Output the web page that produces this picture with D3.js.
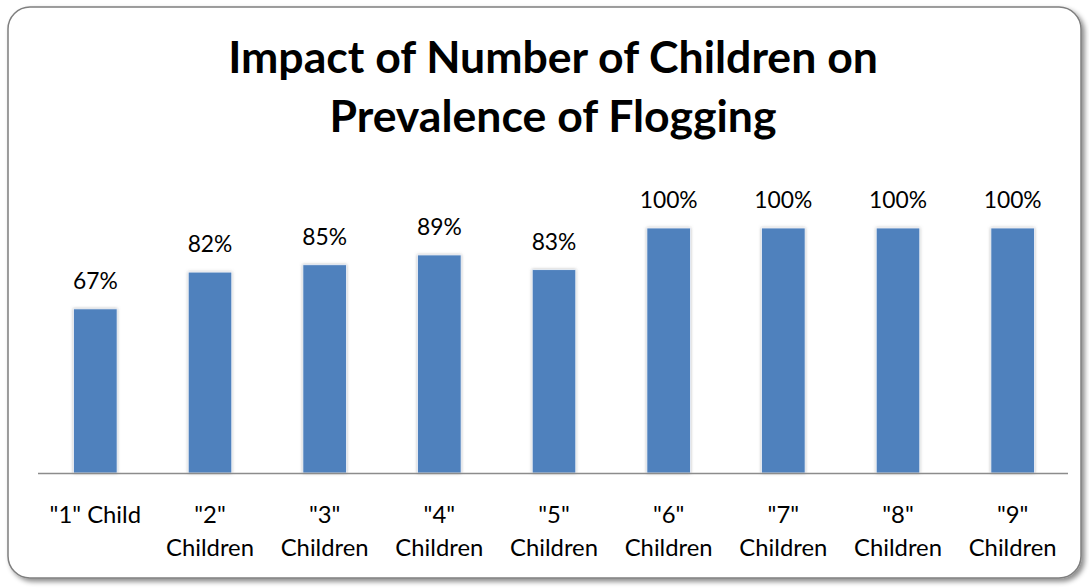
<!DOCTYPE html>
<html><head><meta charset="utf-8">
<script src="https://cdn.jsdelivr.net/npm/d3@7"></script>
<style>html,body{margin:0;padding:0;background:#fff;}</style>
</head><body>
<svg id="chart" width="1089" height="588"></svg>
<script>
const categories = ['"1" Child','"2" Children','"3" Children','"4" Children','"5" Children','"6" Children','"7" Children','"8" Children','"9" Children'];
const values = [0.67, 0.82, 0.85, 0.89, 0.83, 1.00, 1.00, 1.00, 1.00];
const titleLines = ["Impact of Number of Children on", "Prevalence of Flogging"];
const FONT = "Lato, 'Open Sans', sans-serif";

const svg = d3.select("#chart");
const defs = svg.append("defs");
const fs = defs.append("filter").attr("id","frameShadow").attr("x","-5%").attr("y","-5%").attr("width","110%").attr("height","110%");
fs.append("feDropShadow").attr("dx",3).attr("dy",3).attr("stdDeviation",2.5).attr("flood-color","#000").attr("flood-opacity",0.45);
const bs = defs.append("filter").attr("id","barShadow").attr("x","-30%").attr("y","-10%").attr("width","160%").attr("height","120%");
bs.append("feDropShadow").attr("dx",0).attr("dy",0).attr("stdDeviation",1.6).attr("flood-color","#7f7f7f").attr("flood-opacity",0.55);

svg.append("rect").attr("x",8).attr("y",7).attr("width",1073).attr("height",571)
  .attr("rx",22).attr("ry",22).attr("fill","#fff").attr("stroke","#7f7f7f").attr("stroke-width",1.5)
  .attr("filter","url(#frameShadow)");

function fitSize(text, target, weight){
  const t = svg.append("text").attr("font-family",FONT).attr("font-weight",weight).attr("font-size",100).text(text);
  const w = t.node().getComputedTextLength();
  t.remove();
  return 100*target/w;
}

const x = d3.scaleBand().domain(categories).range([38, 1070]).padding(0);
const y = d3.scaleLinear().domain([0, 1.2]).range([473, 179]);
const barW = x.bandwidth()*0.38;

// title
const tSize = fitSize(titleLines[0], 650, "bold");
const titleY = [73, 132];
svg.selectAll("text.title").data(titleLines).join("text").attr("class","title")
  .attr("x",553).attr("y",(d,i)=>titleY[i]).attr("text-anchor","middle")
  .attr("font-family",FONT).attr("font-weight","bold").attr("font-size",tSize).attr("fill","#000").text(d=>d);

// bars
svg.append("g").selectAll("rect").data(values).join("rect")
  .attr("x",(d,i)=>x(categories[i]) + (x.bandwidth()-barW)/2)
  .attr("y",d=>y(d)).attr("width",barW).attr("height",d=>y(0)-y(d))
  .attr("fill","#4F81BD").attr("stroke","#f4f6fa").attr("stroke-width",0.8)
  .attr("filter","url(#barShadow)");

// axis
const axis = svg.append("g").attr("transform",`translate(0,${y(0)})`)
  .call(d3.axisBottom(x).tickSize(0).tickFormat(""));
axis.select(".domain").attr("stroke","#8c8c8c").attr("stroke-width",1.5).attr("d","M38,0.5H1068");

// value labels
const vSize = fitSize("100%", 58, "normal");
svg.append("g").selectAll("text").data(values).join("text")
  .attr("x",(d,i)=>x(categories[i]) + x.bandwidth()/2)
  .attr("y",d=>y(d)-20).attr("text-anchor","middle")
  .attr("font-family",FONT).attr("font-size",vSize).attr("fill","#000")
  .text(d=>d3.format(".0%")(d));

// category labels with wrapping
const cSize = fitSize("Children", 88, "normal");
const cg = svg.append("g");
categories.forEach(c=>{
  const cx = x(c) + x.bandwidth()/2;
  const t = cg.append("text").attr("text-anchor","middle").attr("font-family",FONT)
    .attr("font-size",cSize).attr("fill","#000");
  const probe = t.text(c).node().getComputedTextLength();
  let lines = [c];
  if (probe > x.bandwidth()-4) { const k = c.indexOf(" "); lines = [c.slice(0,k), c.slice(k+1)]; }
  t.text(null);
  lines.forEach((l,i)=>t.append("tspan").attr("x",cx).attr("y",523 + i*33).text(l));
});
</script>
</body></html>
